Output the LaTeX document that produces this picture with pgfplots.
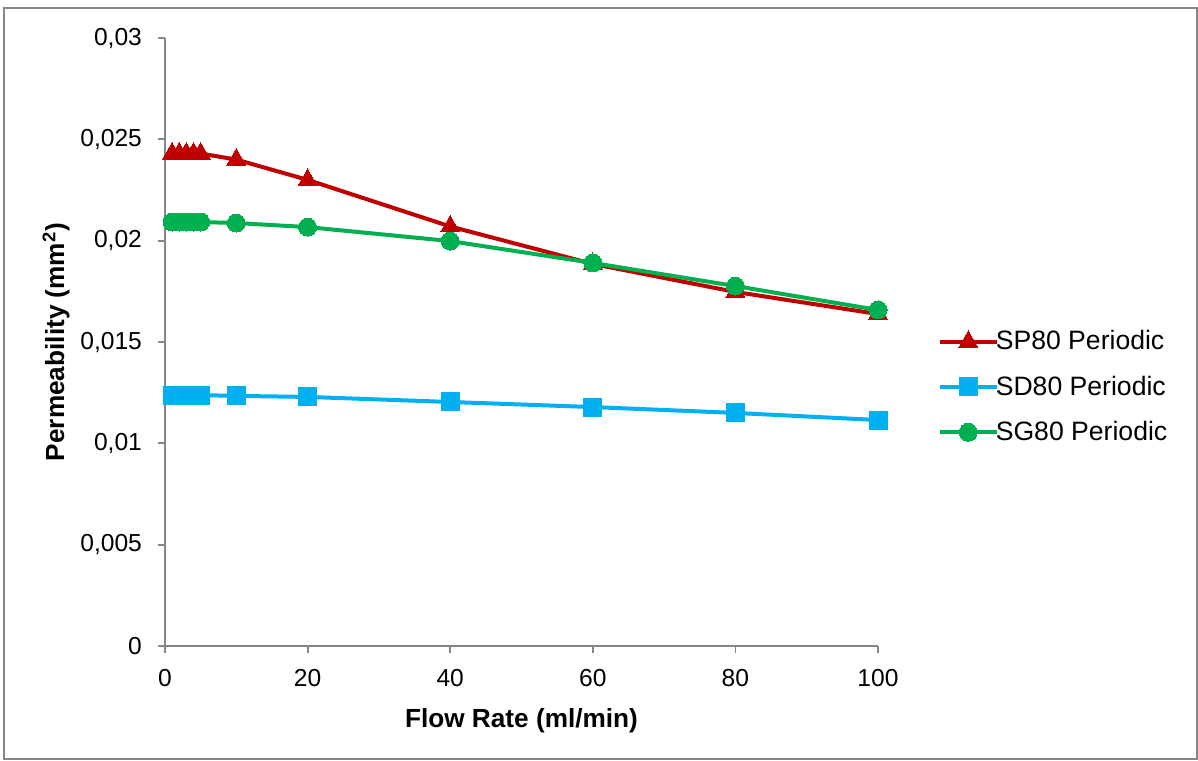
\documentclass[border=0pt]{standalone}
\usepackage{pgfplots}
\pgfplotsset{compat=1.18}
\usepackage{fontspec}
\setmainfont{Liberation Sans}
\definecolor{spred}{RGB}{192,0,0}
\definecolor{sdblue}{RGB}{0,176,240}
\definecolor{sggreen}{RGB}{0,176,80}
\definecolor{axgray}{RGB}{134,134,134}
\begin{document}
\begin{tikzpicture}
% page = 1198 x 760 px at 0.5pt per px, axis origin at px (165,646)
\path[use as bounding box] (-82.5pt,-57pt) rectangle (516.5pt,323pt);
\draw[axgray, line width=0.8pt] (-80.5pt,-56.5pt) rectangle (516pt,319pt);
\begin{axis}[
    at={(0pt,0pt)}, anchor=south west,
    scale only axis,
    width=356.5pt, height=304pt,
    xmin=0, xmax=100, ymin=0, ymax=0.03,
    xtick={0,20,...,100},
    ytick={0,0.005,...,0.03},
    axis lines*=left,
    axis line style={axgray, line width=0.9pt},
    tick style={axgray, line width=0.9pt},
    tick align=outside,
    major tick length=3.5pt,
    scaled y ticks=false,
    /pgf/number format/assume math mode=true,
    ticklabel style={font=\fontsize{12.3}{14}\selectfont},
    xticklabel style={yshift=-4.5pt},
    yticklabel style={xshift=-4.5pt, /pgf/number format/.cd, use comma, fixed, precision=3},
    xlabel={\textbf{Flow Rate (ml/min)}},
    ylabel={\textbf{Permeability (mm\textsuperscript{2})}},
    label style={font=\fontsize{13.1}{15}\selectfont},
    xlabel style={yshift=-4pt},
    ylabel style={yshift=-1.5pt},
    legend style={draw=none, at={(1.075,0.426)}, anchor=west,
        font=\fontsize{13.3}{16}\selectfont, row sep=7.5pt,
        /tikz/every odd column/.append style={column sep=-3.5pt}},
    legend cell align=left,
    legend image code/.code={
        \draw[mark repeat=2, mark phase=2] plot coordinates {(0cm,0cm) (0.5cm,0cm) (1cm,0cm)};
    },
    every axis plot/.append style={line width=2pt, line join=round},
]
\addplot[spred, mark=triangle*, mark size=5.5pt, mark options={solid, line width=0pt}] coordinates {
    (1,0.0243) (2,0.0243) (3,0.0243) (4,0.0243) (5,0.0243)
    (10,0.0240) (20,0.0230) (40,0.0207) (60,0.01885) (80,0.01747) (100,0.01638)
};
\addlegendentry{SP80 Periodic}
\addplot[sdblue, mark=square*, mark size=4.5pt, mark options={solid, line width=0pt}] coordinates {
    (1,0.01238) (2,0.01238) (3,0.01238) (4,0.01238) (5,0.01238)
    (10,0.01234) (20,0.01229) (40,0.01204) (60,0.01179) (80,0.0115) (100,0.01115)
};
\addlegendentry{SD80 Periodic}
\addplot[sggreen, mark=*, mark size=4.5pt, mark options={solid, line width=0pt}] coordinates {
    (1,0.02092) (2,0.02092) (3,0.02092) (4,0.02092) (5,0.02092)
    (10,0.02087) (20,0.02067) (40,0.01998) (60,0.0189) (80,0.01776) (100,0.01658)
};
\addlegendentry{SG80 Periodic}
\end{axis}
\end{tikzpicture}
\end{document}
